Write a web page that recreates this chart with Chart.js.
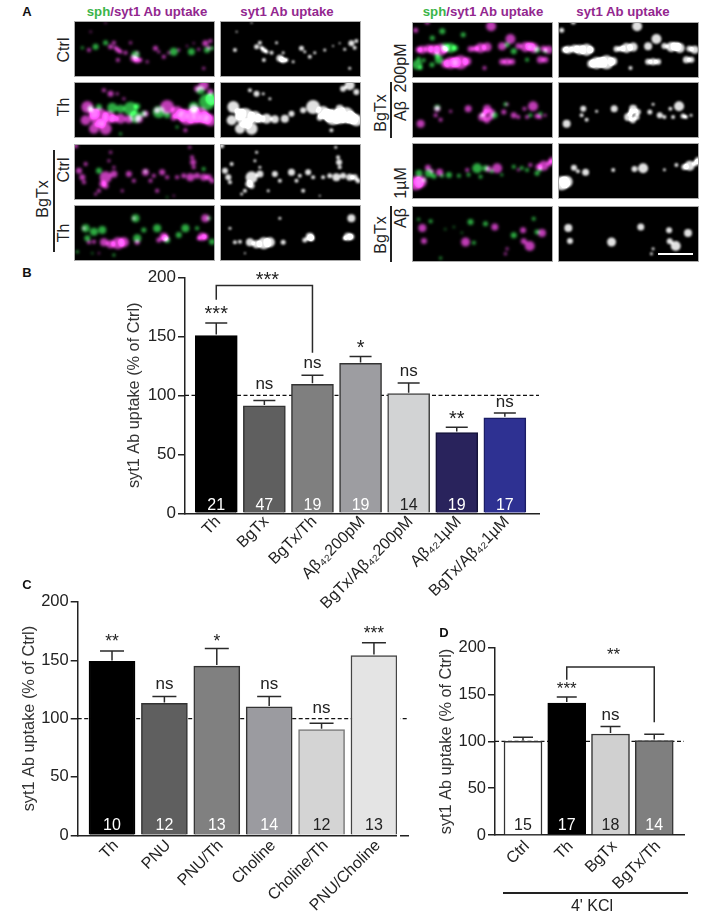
<!DOCTYPE html>
<html>
<head>
<meta charset="utf-8">
<title>syt1 Ab uptake</title>
<script src="https://cdn.jsdelivr.net/npm/chart.js@4"></script>
<style>
  html, body { margin: 0; padding: 0; background: #fff; }
  body { position: relative; width: 704px; height: 917px; overflow: hidden; font-family: "Liberation Sans", Arial, sans-serif; color: #222; }
  canvas { position: absolute; }
  canvas.cell { background: #000; outline: 1px solid #aaa; outline-offset: -1px; }
  .txt { position: absolute; white-space: nowrap; transform: translate(-50%, -50%); font-size: 16px; line-height: 1; }
  .up { transform: translate(-50%, -50%) rotate(-90deg); }
  .head { font-size: 13.2px; font-weight: bold; color: #93278f; }
  .head b { color: #3cb54a; }
  .tag { font-size: 13px; font-weight: bold; color: #111; }
  .rule { position: absolute; background: #222; }
</style>
</head>
<body>
<canvas id="chartB" width="428" height="358" style="left:125px;top:262px"></canvas>
<canvas id="chartC" width="402" height="327" style="left:20px;top:590px"></canvas>
<canvas id="chartD" width="261" height="281" style="left:437px;top:636px"></canvas>

<span class="txt tag" style="left:27px;top:11px">A</span>
<span class="txt tag" style="left:27px;top:272px">B</span>
<span class="txt tag" style="left:27px;top:584px">C</span>
<span class="txt tag" style="left:444px;top:632px">D</span>

<span class="txt head" style="left:147px;top:12px"><b>sph</b>/syt1 Ab uptake</span>
<span class="txt head" style="left:287px;top:12px">syt1 Ab uptake</span>
<span class="txt head" style="left:483px;top:12px"><b>sph</b>/syt1 Ab uptake</span>
<span class="txt head" style="left:623px;top:12px">syt1 Ab uptake</span>

<span class="txt up" style="left:64px;top:50px">Ctrl</span>
<span class="txt up" style="left:64px;top:107px">Th</span>
<span class="txt up" style="left:64px;top:170px">Ctrl</span>
<span class="txt up" style="left:64px;top:233px">Th</span>
<span class="txt up" style="left:43px;top:199px">BgTx</span>
<div class="rule" style="left:53px;top:150px;width:1.5px;height:102px"></div>

<span class="txt up" style="left:401px;top:68px">200pM</span>
<span class="txt up" style="left:401px;top:111px">Aβ</span>
<span class="txt up" style="left:381px;top:113px">BgTx</span>
<div class="rule" style="left:390px;top:82px;width:1.5px;height:56px"></div>
<span class="txt up" style="left:401px;top:183px">1µM</span>
<span class="txt up" style="left:401px;top:218px">Aβ</span>
<span class="txt up" style="left:381px;top:235px">BgTx</span>
<div class="rule" style="left:390px;top:206px;width:1.5px;height:56px"></div>

<div class="rule" style="left:503px;top:892px;width:185px;height:1.5px"></div>
<span class="txt" style="left:592px;top:906px">4' KCl</span>

<script>
// panel A puncta, [x, y, radius] read per field (x 0-424, y 0-168)
const ctrlMagenta = [[45,87,2],[110,77,2.5],[132,87,2.5],[140,92,2],[170,65,1.5],[180,112,3.5],[200,117,2],[245,82,2.5],[270,107,2],[315,87,1.5],[395,67,3],[390,142,1.5],[360,67,1],[95,5,1],[50,32,1],[132,117,2],[220,122,1.5],[120,65,2],[155,95,2],[125,80,2],[190,95,1.5],[255,92,1.5],[285,95,1.5],[405,80,2],[375,85,1.5],[340,75,1],[410,60,2],[190,118,3]];
const ctrlGreen = [[25,80,1.5],[65,77,3],[95,65,2.5],[185,102,4],[300,92,4],[353,92,3.5],[400,87,3],[415,82,2]];
const thMagenta = [[40,75,6],[75,105,9],[105,105,6],[35,115,5],[95,140,6],[110,35,3],[90,25,2],[140,110,5],[195,110,4],[280,75,7],[310,90,6],[340,105,8],[380,100,8],[410,115,6],[300,107,3],[390,10,5],[360,80,4],[335,145,2],[215,95,3],[60,95,5],[120,110,4],[165,112,4],[250,85,3],[325,100,6],[360,105,7],[395,108,6],[60,140,5],[80,125,4],[130,35,1.5],[150,50,1.5],[370,20,3],[410,30,3]];
const thGreen = [[50,80,3],[115,77,5],[170,80,7],[185,105,6],[190,73,3],[255,90,6],[360,75,5],[400,60,8],[415,50,6],[380,25,4],[140,155,1.5],[310,135,1.5],[140,80,4],[75,75,3],[210,95,3],[280,100,3]];
const bgtxCtrlMagenta = [[15,80,3],[25,100,3],[95,100,6],[120,90,3.5],[165,90,3],[215,85,3.5],[265,85,3],[310,100,2],[350,100,4],[390,100,3.5],[415,110,2.5],[358,55,3],[348,10,1.5],[110,25,1.5],[105,50,1.5],[5,5,2.5],[75,140,2],[145,140,1.5],[250,140,2],[300,155,1],[65,150,1.5],[35,60,2],[30,115,2],[85,120,3],[95,125,3],[180,110,2],[230,110,2],[240,95,2],[330,95,2.5],[370,95,3],[405,100,3],[355,40,2],[360,70,2],[120,70,1.5],[280,100,2]];
const bgtxCtrlGreen = [[75,80,3],[215,82,1.5],[390,75,2],[280,160,1]];
const bgtxThMagenta = [[45,112,2],[90,112,4],[132,115,6],[190,112,2.5],[270,95,4],[255,105,2.5],[385,95,4],[395,40,4],[75,145,1],[30,70,1.5],[180,40,1.5],[110,118,4],[150,112,5],[60,110,2],[275,100,3],[395,95,3],[375,100,2]];
const bgtxThGreen = [[35,70,4],[60,80,4],[85,75,4],[40,100,3],[185,40,4],[190,100,4],[210,75,2.5],[250,70,4],[280,105,3],[335,70,4],[315,90,3],[370,70,2],[415,110,3],[405,40,2],[10,140,1.5],[55,145,1],[120,150,1.5]];
const ab200Magenta = [[31,83,4],[66,83,5],[86,83,6],[176,81,3],[206,78,5],[226,75,4.5],[271,73,4],[296,51,5],[341,75,5],[366,78,5],[411,83,4],[238,13,5],[11,25,2.5],[46,0,2.5],[116,123,6],[146,121,7],[166,118,4],[271,119,3],[286,119,3.5],[301,119,3],[386,113,3.5],[401,113,3],[218,138,2],[20,83,3],[50,80,4],[100,83,3],[190,80,3],[130,121,5],[100,125,4],[320,72,3],[355,72,4],[395,80,3]];
const ab200Green = [[16,128,5],[26,138,2],[81,113,4],[116,78,5],[91,28,3],[61,48,2.5],[154,38,2.5],[306,88,3],[286,68,2.5],[376,83,3],[401,88,2],[346,113,2],[100,75,4],[130,78,3],[75,100,2.5],[60,128,2.5],[35,115,2],[20,110,2]];
const bgtxAb200Magenta = [[26,125,4],[76,80,3],[71,100,2],[86,113,2],[169,80,3.5],[226,80,4],[211,105,4],[236,105,3],[276,90,2.5],[306,100,3],[364,73,5],[338,80,2],[286,67,1.5],[346,105,2],[376,102,2.5],[116,88,1.5],[220,92,3],[240,90,3],[225,115,3],[320,105,2],[385,105,2],[400,100,1.5]];
const bgtxAb200Green = [[76,77,3],[248,100,3],[211,100,2],[281,67,2],[356,100,2],[386,95,2]];
const ab1Magenta = [[48,74,3],[83,88,3.5],[166,81,2],[256,76,5],[396,68,5],[421,51,3],[26,116,6],[11,121,7],[356,66,2],[60,85,2],[230,78,3],[380,72,3],[320,80,1.5],[415,60,3]];
const ab1Green = [[21,91,3.5],[51,91,4],[111,96,3],[196,76,5],[221,76,3],[141,98,2],[306,71,2],[346,81,2],[376,91,2.5],[206,101,2],[36,111,2],[66,100,2.5],[90,98,2],[170,95,2],[240,85,2],[330,75,2],[270,95,1.5],[385,80,2]];
const bgtxAb1Magenta = [[31,66,4],[36,105,3],[161,108,4.5],[249,63,3.5],[334,73,3],[336,106,3],[354,120,5],[391,81,4],[281,143,1.5],[286,128,1.5]];
const bgtxAb1Green = [[56,46,2],[176,48,3],[221,53,2.5],[186,110,2],[306,88,3],[366,38,2],[376,78,2.5],[86,156,1.5],[126,63,1],[20,40,1.5],[150,80,1],[100,70,1]];

// panel B
const labelsB = ['Th', 'BgTx', 'BgTx/Th', 'Aβ₄₂200pM', 'BgTx/Aβ₄₂200pM', 'Aβ₄₂1µM', 'BgTx/Aβ₄₂1µM'];
const valuesB = [150.6, 91, 109.3, 127, 101.4, 68.4, 81];
const errTopB = [161.3, 95.5, 117, 132.8, 110.5, 72.9, 85];
const nB = ['21', '47', '19', '19', '14', '19', '17'];
const sigB = ['***', 'ns', 'ns', '*', 'ns', '**', 'ns'];
const sigHeightB = [164, 105, 123, 135, 116, 75, 90];
const coloursB = ['#000000', '#5f5f5f', '#7f7f7f', '#9d9da1', '#d2d3d4', '#29235c', '#2e3192'];
const edgesB = ['#000000', '#333333', '#333333', '#333333', '#444444', '#15133a', '#1b1d66'];
const nColoursB = ['#fff', '#fff', '#fff', '#fff', '#222', '#fff', '#fff'];

// panel C
const labelsC = ['Th', 'PNU', 'PNU/Th', 'Choline', 'Choline/Th', 'PNU/Choline'];
const valuesC = [149, 113, 145, 110, 90.5, 154];
const errTopC = [158, 119, 160, 119, 96, 165];
const nC = ['10', '12', '13', '14', '12', '13'];
const sigC = ['**', 'ns', '*', 'ns', 'ns', '***'];
const sigHeightC = [161.5, 125, 161.5, 125, 104.5, 168];
const coloursC = ['#000000', '#5f5f5f', '#808080', '#9b9ba0', '#d4d4d4', '#e4e4e4'];
const edgesC = ['#000000', '#333333', '#333333', '#333333', '#777777', '#444444'];
const nColoursC = ['#fff', '#fff', '#fff', '#fff', '#222', '#222'];

// panel D
const labelsD = ['Ctrl', 'Th', 'BgTx', 'BgTx/Th'];
const valuesD = [100, 141, 108, 101];
const errTopD = [104.5, 147.5, 116, 107.6];
const nD = ['15', '17', '18', '14'];
const sigD = ['', '***', 'ns', ''];
const sigHeightD = [0, 150.6, 122.4, 0];
const coloursD = ['#ffffff', '#000000', '#d0d0d0', '#7f7f7f'];
const edgesD = ['#333333', '#000000', '#333333', '#333333'];
const nColoursD = ['#222', '#fff', '#222', '#fff'];

const yTicks = [0, 50, 100, 150, 200];

Chart.defaults.font.family = '"Liberation Sans", Arial, sans-serif';
Chart.defaults.animation = false;

const cellGlow = {
  id: 'cellGlow',
  beforeDatasetsDraw(chart, args, opts) {
    chart.ctx.save();
    chart.ctx.filter = `blur(${opts.blur}px)`;
    chart.ctx.globalCompositeOperation = 'lighter';
  },
  afterDatasetsDraw(chart) {
    chart.ctx.restore();
  }
};

function toBubbles(list) {
  return list.map(d => ({ x: d[0], y: d[1], r: d[2] }));
}

function makeCell(left, top, sets, blur) {
  const canvas = document.createElement('canvas');
  canvas.className = 'cell';
  canvas.width = 141;
  canvas.height = 56;
  canvas.style.left = left + 'px';
  canvas.style.top = top + 'px';
  document.body.appendChild(canvas);
  new Chart(canvas.getContext('2d'), {
    type: 'bubble',
    data: {
      datasets: sets.map(s => ({ data: toBubbles(s.data), backgroundColor: s.color, borderWidth: 0 }))
    },
    options: {
      responsive: false,
      layout: { autoPadding: false },
      plugins: { legend: { display: false }, tooltip: { enabled: false }, cellGlow: { blur: blur } },
      scales: {
        x: { display: false, min: 0, max: 424 },
        y: { display: false, min: 0, max: 168, reverse: true }
      }
    },
    plugins: [cellGlow]
  });
}

const MAGENTA = 'rgb(190,60,180)';
const GREEN = 'rgb(45,170,65)';
const WHITE = 'rgb(225,225,225)';

function makeField(left, greyLeft, top, magenta, green) {
  makeCell(left, top, [{ data: green, color: GREEN }, { data: magenta, color: MAGENTA }], 1.5);
  makeCell(greyLeft, top, [{ data: magenta, color: WHITE }], 1.1);
}

makeField(73.5, 220, 21, ctrlMagenta, ctrlGreen);
makeField(73.5, 220, 82, thMagenta, thGreen);
makeField(73.5, 220, 143.5, bgtxCtrlMagenta, bgtxCtrlGreen);
makeField(73.5, 220, 205, bgtxThMagenta, bgtxThGreen);
makeField(411.5, 558, 22, ab200Magenta, ab200Green);
makeField(411.5, 558, 82, bgtxAb200Magenta, bgtxAb200Green);
makeField(411.5, 558, 143, ab1Magenta, ab1Green);
makeField(411.5, 558, 206, bgtxAb1Magenta, bgtxAb1Green);

// scale bar on the last grey field
const bar = document.createElement('div');
bar.className = 'rule';
bar.style.cssText = 'left:658px;top:252.5px;width:35px;height:2px;background:#fff';
document.body.appendChild(bar);

// dashed 100 line, error bars, significance marks, n values, bracket
const barMarks = {
  id: 'barMarks',
  beforeDatasetsDraw(chart, args, o) {
    const ctx = chart.ctx;
    const y = chart.scales.y.getPixelForValue(100);
    ctx.save();
    ctx.strokeStyle = '#111';
    ctx.lineWidth = 1.2;
    ctx.setLineDash([4, 2.5]);
    ctx.beginPath();
    ctx.moveTo(chart.chartArea.left, y);
    ctx.lineTo(chart.chartArea.right, y);
    ctx.stroke();
    ctx.restore();
  },
  afterDatasetsDraw(chart, args, o) {
    const ctx = chart.ctx;
    const xs = chart.scales.x;
    const ys = chart.scales.y;
    ctx.save();
    ctx.strokeStyle = '#2a2a2a';
    ctx.lineWidth = 1.5;
    o.values.forEach((v, i) => {
      const x = xs.getPixelForValue(i);
      const top = ys.getPixelForValue(o.errTop[i]);
      ctx.beginPath();
      ctx.moveTo(x, ys.getPixelForValue(v) - 1);
      ctx.lineTo(x, top);
      ctx.moveTo(x - o.cap, top);
      ctx.lineTo(x + o.cap, top);
      ctx.stroke();
    });
    ctx.textAlign = 'center';
    o.sig.forEach((s, i) => {
      if (!s) return;
      ctx.fillStyle = '#222';
      ctx.font = (s === 'ns' ? '17px' : o.starSize + 'px') + ' "Liberation Sans", Arial, sans-serif';
      ctx.fillText(s, xs.getPixelForValue(i), ys.getPixelForValue(o.sigHeight[i]));
    });
    ctx.font = '16px "Liberation Sans", Arial, sans-serif';
    ctx.textBaseline = 'middle';
    o.n.forEach((s, i) => {
      ctx.fillStyle = o.nColours[i];
      ctx.fillText(s, xs.getPixelForValue(i), ys.bottom - o.nLift);
    });
    ctx.textBaseline = 'alphabetic';
    if (o.bracket) {
      const b = o.bracket;
      const x0 = xs.getPixelForValue(b.from);
      const x1 = xs.getPixelForValue(b.to);
      const top = ys.getPixelForValue(b.top);
      ctx.beginPath();
      ctx.moveTo(x0, ys.getPixelForValue(b.leftEnd));
      ctx.lineTo(x0, top);
      ctx.lineTo(x1, top);
      ctx.lineTo(x1, ys.getPixelForValue(b.rightEnd));
      ctx.stroke();
      ctx.fillStyle = '#222';
      ctx.font = b.size + 'px "Liberation Sans", Arial, sans-serif';
      ctx.fillText(b.label, (x0 + x1) / 2 + 3, ys.getPixelForValue(b.labelAt));
    }
    ctx.restore();
  },
  afterDraw(chart, args, o) {
    if (!o.gap) return;
    const x0 = chart.scales.x.getPixelForValue(o.gap[0]);
    const x1 = chart.scales.x.getPixelForValue(o.gap[1]);
    chart.ctx.clearRect(x0, chart.chartArea.top, x1 - x0, chart.chartArea.bottom - chart.chartArea.top + 2);
  }
};

function makeBars(id, c) {
  return new Chart(document.getElementById(id).getContext('2d'), {
    type: 'bar',
    data: {
      datasets: [{
        data: c.values.map((v, i) => ({ x: i, y: v })),
        backgroundColor: c.colours,
        borderColor: c.edges,
        borderWidth: 1.5,
        barThickness: c.barWidth
      }]
    },
    options: {
      responsive: false,
      layout: { padding: { top: c.padTop, right: 14 } },
      plugins: {
        legend: { display: false },
        tooltip: { enabled: false },
        barMarks: {
          values: c.values, errTop: c.errTop, sig: c.sig, sigHeight: c.sigHeight, n: c.n,
          nColours: c.nColours, nLift: c.nLift, cap: c.cap, starSize: c.starSize,
          bracket: c.bracket, gap: c.gap
        }
      },
      scales: {
        x: {
          type: 'linear',
          offset: false,
          min: c.xMin,
          max: c.xMax,
          afterFit(s) { s.height = c.xHeight; },
          afterBuildTicks(s) { s.ticks = c.labels.map((l, i) => ({ value: i })); },
          grid: { display: false, offset: false },
          border: { color: '#222', width: 1.5 },
          ticks: {
            autoSkip: false,
            maxRotation: 45,
            minRotation: 45,
            padding: c.labelPad,
            labelOffset: c.labelShift,
            color: '#222',
            font: { size: 16 },
            callback: v => c.labels[v]
          }
        },
        y: {
          min: 0,
          max: 200,
          afterFit(s) { s.width = c.yWidth; },
          afterBuildTicks(s) { s.ticks = yTicks.map(v => ({ value: v })); },
          grid: { drawOnChartArea: false, color: '#222', lineWidth: 1.5, tickLength: 7 },
          border: { color: '#222', width: 1.5 },
          ticks: { padding: 2, color: '#222', font: { size: c.tickSize } },
          title: {
            display: true,
            text: 'syt1 Ab uptake (% of Ctrl)',
            color: '#333',
            font: { size: 16.3 },
            padding: { top: 0, bottom: 0 }
          }
        }
      }
    },
    plugins: [barMarks]
  });
}

makeBars('chartB', {
  labels: labelsB, values: valuesB, errTop: errTopB, n: nB, sig: sigB, sigHeight: sigHeightB,
  colours: coloursB, edges: edgesB, nColours: nColoursB,
  barWidth: 42, cap: 11, starSize: 20, nLift: 8, tickSize: 17, labelPad: -9, labelShift: 2,
  xMin: -0.65, xMax: 6.71, padTop: 15.3, xHeight: 106.7, yWidth: 60,
  bracket: { from: 0, to: 2, top: 193, leftEnd: 181, rightEnd: 136, label: '***', labelAt: 193, size: 20 }
});

makeBars('chartC', {
  labels: labelsC, values: valuesC, errTop: errTopC, n: nC, sig: sigC, sigHeight: sigHeightC,
  colours: coloursC, edges: edgesC, nColours: nColoursC,
  barWidth: 46, cap: 12, starSize: 17.5, nLift: 10, tickSize: 16.5, labelPad: -7, labelShift: 4,
  xMin: -0.655, xMax: 5.65, padTop: 9.3, xHeight: 81.7, yWidth: 57.7,
  gap: [5.44, 5.49]
});

makeBars('chartD', {
  labels: labelsD, values: valuesD, errTop: errTopD, n: nD, sig: sigD, sigHeight: sigHeightD,
  colours: coloursD, edges: edgesD, nColours: nColoursD,
  barWidth: 38, cap: 10, starSize: 17, nLift: 9, tickSize: 16.5, labelPad: -6, labelShift: 4,
  xMin: -0.64, xMax: 3.68, padTop: 10, xHeight: 82, yWidth: 58,
  bracket: { from: 1, to: 3, top: 179.6, leftEnd: 166, rightEnd: 120.6, label: '**', labelAt: 187, size: 17 }
});
</script>
</body>
</html>
